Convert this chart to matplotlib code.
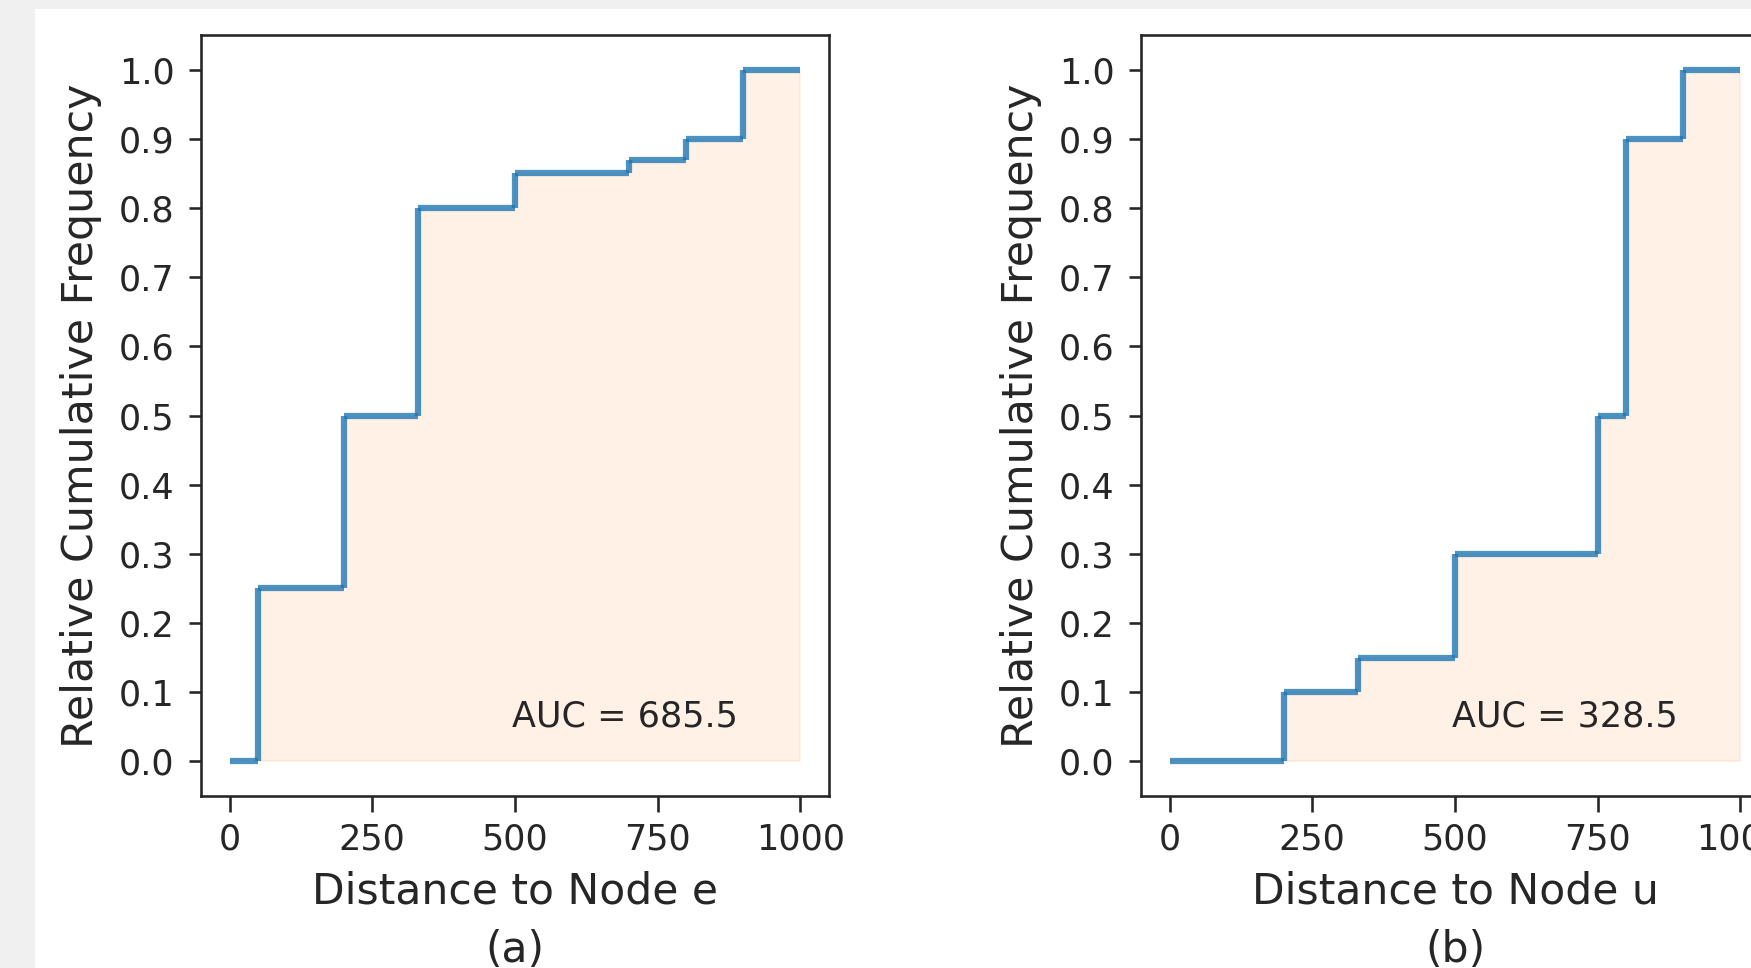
import matplotlib
matplotlib.use("Agg")
import matplotlib.pyplot as plt
from matplotlib.patches import Rectangle

# Data
xa = [0, 50, 200, 330, 500, 700, 800, 900, 1000]
ya = [0.0, 0.25, 0.5, 0.8, 0.85, 0.87, 0.9, 1.0, 1.0]
xb = [0, 200, 330, 500, 750, 800, 900, 1000]
yb = [0.0, 0.1, 0.15, 0.3, 0.5, 0.9, 1.0, 1.0]
auc_a = 685.5
auc_b = 328.5
xlabels = ["Distance to Node e\n(a)", "Distance to Node u\n(b)"]
xticks = [0, 250, 500, 750, 1000]
yticks = [i / 10 for i in range(11)]

W, H = 1751, 968
DPI = 250
plt.rcParams['font.family'] = ['DejaVu Sans']
dark = '#262626'
fig = plt.figure(figsize=(W / DPI, H / DPI), dpi=DPI)
fig.patch.set_facecolor('#f0f0f0')
fig.patches.append(Rectangle((35 / W, 0), 1 - 35 / W, 1 - 9 / H,
                             transform=fig.transFigure, facecolor='white',
                             edgecolor='none', zorder=-10))

def panel(left_px, x, y, auc, xlabel):
    ax = fig.add_axes([left_px / W, 1 - 796 / H, 628 / W, 761 / H])
    ax.set_zorder(1)
    ax.fill_between(x, y, step='post', color='tab:orange', alpha=0.1, lw=0.5)
    for i in range(len(x) - 1):
        ax.hlines(y[i], x[i], x[i + 1], color='tab:blue', alpha=0.8, lw=1.8)
        if y[i + 1] != y[i]:
            ax.vlines(x[i + 1], y[i], y[i + 1], color='tab:blue', alpha=0.8, lw=1.8)
    ax.set_xlim(-50, 1050)
    ax.set_ylim(-0.05, 1.05)
    ax.set_xticks(xticks)
    ax.set_yticks(yticks)
    ax.set_yticklabels([f"{v:.1f}" for v in yticks])
    ax.tick_params(axis='both', labelsize=10.1, colors=dark, width=0.75)
    ax.tick_params(axis='x', length=4.5, pad=3.2)
    ax.tick_params(axis='y', length=3.6, pad=4.0)
    for s in ax.spines.values():
        s.set_color(dark)
        s.set_linewidth(0.75)
    ax.text(495, 0.05, f"AUC = {auc}", fontsize=10.1, color=dark, va='baseline', ha='left')
    ax.set_xlabel(xlabel, fontsize=12.25, color=dark, linespacing=1.5)
    ax.set_ylabel("Relative Cumulative Frequency", fontsize=12.3, color=dark)
    ax.yaxis.set_label_coords(-0.157, 0.5)
    ax.xaxis.set_label_coords(0.5, -0.098)
    return ax

panel(201, xa, ya, auc_a, xlabels[0])
panel(1141, xb, yb, auc_b, xlabels[1])

fig.savefig("out.png", dpi=DPI, facecolor=fig.get_facecolor())
